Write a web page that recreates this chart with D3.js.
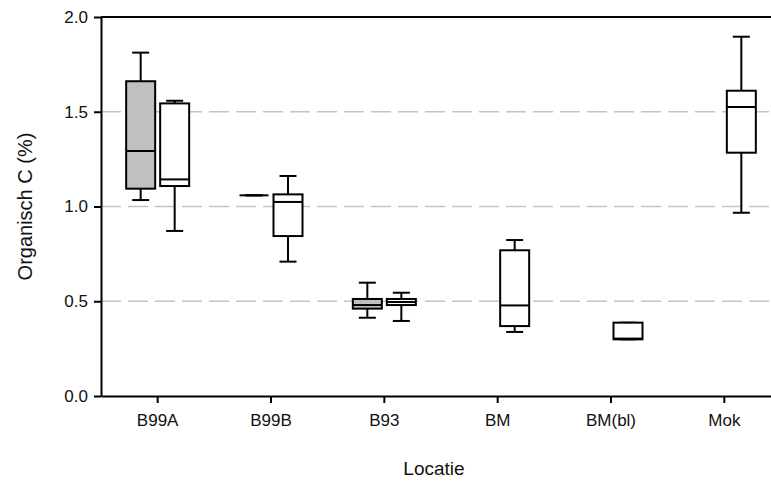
<!DOCTYPE html>
<html>
<head>
<meta charset="utf-8">
<script src="https://cdn.jsdelivr.net/npm/d3@7"></script>
<style>
  body { margin: 0; background: #fff; }
  svg { display: block; font-family: "Liberation Sans", Arial, sans-serif; }
</style>
</head>
<body>
<svg id="chart" width="771" height="484"></svg>
<script>
// locations on the x axis
const locaties = ["B99A", "B99B", "B93", "BM", "BM(bl)", "Mok"];
const yTicks = [0.0, 0.5, 1.0, 1.5, 2.0];
const gridValues = [0.5, 1.0, 1.5];

// grey boxes (left one in each group)
const grijsBoxes = [
    {loc: "B99A", min: 1.034, q1: 1.094, med: 1.293, q3: 1.661, max: 1.812},
    {loc: "B99B", min: 1.059, q1: 1.059, med: 1.059, q3: 1.059, max: 1.059},
    {loc: "B93",  min: 0.413, q1: 0.461, med: 0.480, q3: 0.512, max: 0.598}
];

// white boxes (right one in each group)
const witBoxes = [
    {loc: "B99A",   min: 0.871, q1: 1.108, med: 1.143, q3: 1.544, max: 1.558},
    {loc: "B99B",   min: 0.709, q1: 0.844, med: 1.024, q3: 1.064, max: 1.161},
    {loc: "B93",    min: 0.396, q1: 0.480, med: 0.496, q3: 0.512, max: 0.545},
    {loc: "BM",     min: 0.338, q1: 0.369, med: 0.478, q3: 0.769, max: 0.823},
    {loc: "BM(bl)", min: 0.299, q1: 0.299, med: 0.303, q3: 0.387, max: 0.387},
    {loc: "Mok",    min: 0.967, q1: 1.284, med: 1.525, q3: 1.611, max: 1.896}
];

const svg = d3.select("#chart");
const plotLeft = 101, plotRight = 781, plotTop = 17, plotBottom = 396;

let x = d3.scaleBand().domain(locaties).range([plotLeft, plotRight]);
let y = d3.scaleLinear().domain([0, 2]).range([plotBottom, plotTop]);
// offset of the two boxes inside a group
let xSub = d3.scalePoint().domain(["grijs", "wit"]).range([-17, 17]);
const boxW = 29, capW = 17;

// dashed grid lines
svg.append("g").selectAll("line")
   .data(gridValues)
   .join("line")
   .attr("x1", plotLeft).attr("x2", plotRight)
   .attr("y1", d => y(d)).attr("y2", d => y(d))
   .attr("stroke", "#c4c4c4")
   .attr("stroke-width", 1.5)
   .attr("stroke-dasharray", "20,7");

// top frame line
svg.append("line")
   .attr("x1", plotLeft).attr("x2", plotRight)
   .attr("y1", plotTop).attr("y2", plotTop)
   .attr("stroke", "#000").attr("stroke-width", 2);

// axes
let yAxis = svg.append("g")
   .attr("transform", "translate(" + plotLeft + ",0)")
   .call(d3.axisLeft(y).tickValues(yTicks).tickSize(7).tickSizeOuter(0).tickPadding(6).tickFormat(d3.format(".1f")));

let xAxis = svg.append("g")
   .attr("transform", "translate(0," + plotBottom + ")")
   .call(d3.axisBottom(x).tickSize(7).tickSizeOuter(0).tickPadding(11));

svg.selectAll(".domain").attr("stroke", "#000").attr("stroke-width", 2);
svg.selectAll(".tick line").attr("stroke", "#000").attr("stroke-width", 2);
svg.selectAll(".tick text").attr("font-size", 17).attr("fill", "#111")
   .attr("font-family", "Liberation Sans, Arial, sans-serif");

// draw boxplots for one series
function drawBoxes(data, series, fill) {
    let g = svg.append("g").selectAll("g")
        .data(data)
        .join("g")
        .attr("transform", d => "translate(" + (x(d.loc) + x.bandwidth() / 2 + xSub(series)) + ",0)");

    // whisker stems
    g.append("line")
     .attr("y1", d => y(d.max)).attr("y2", d => y(d.q3))
     .attr("stroke", "#000").attr("stroke-width", 2);
    g.append("line")
     .attr("y1", d => y(d.q1)).attr("y2", d => y(d.min))
     .attr("stroke", "#000").attr("stroke-width", 2);

    // caps
    g.selectAll(".cap")
     .data(d => [d.max, d.min])
     .join("line")
     .attr("class", "cap")
     .attr("x1", -capW / 2).attr("x2", capW / 2)
     .attr("y1", d => y(d)).attr("y2", d => y(d))
     .attr("stroke", "#000").attr("stroke-width", 2);

    // box
    g.append("rect")
     .attr("x", -boxW / 2).attr("width", boxW)
     .attr("y", d => y(d.q3))
     .attr("height", d => y(d.q1) - y(d.q3))
     .attr("fill", fill)
     .attr("stroke", "#000").attr("stroke-width", 2);

    // median
    g.append("line")
     .attr("x1", -boxW / 2).attr("x2", boxW / 2)
     .attr("y1", d => y(d.med)).attr("y2", d => y(d.med))
     .attr("stroke", "#000").attr("stroke-width", 2);
}

drawBoxes(grijsBoxes, "grijs", "#c0c0c0");
drawBoxes(witBoxes, "wit", "#fff");

// axis titles
svg.append("text")
   .attr("x", 434)
   .attr("y", 475)
   .attr("text-anchor", "middle")
   .attr("font-size", 19)
   .attr("fill", "#111")
   .text("Locatie");

svg.append("text")
   .attr("transform", "translate(32," + ((plotTop + plotBottom) / 2) + ") rotate(-90)")
   .attr("text-anchor", "middle")
   .attr("font-size", 20)
   .attr("fill", "#111")
   .text("Organisch C (%)");
</script>
</body>
</html>
